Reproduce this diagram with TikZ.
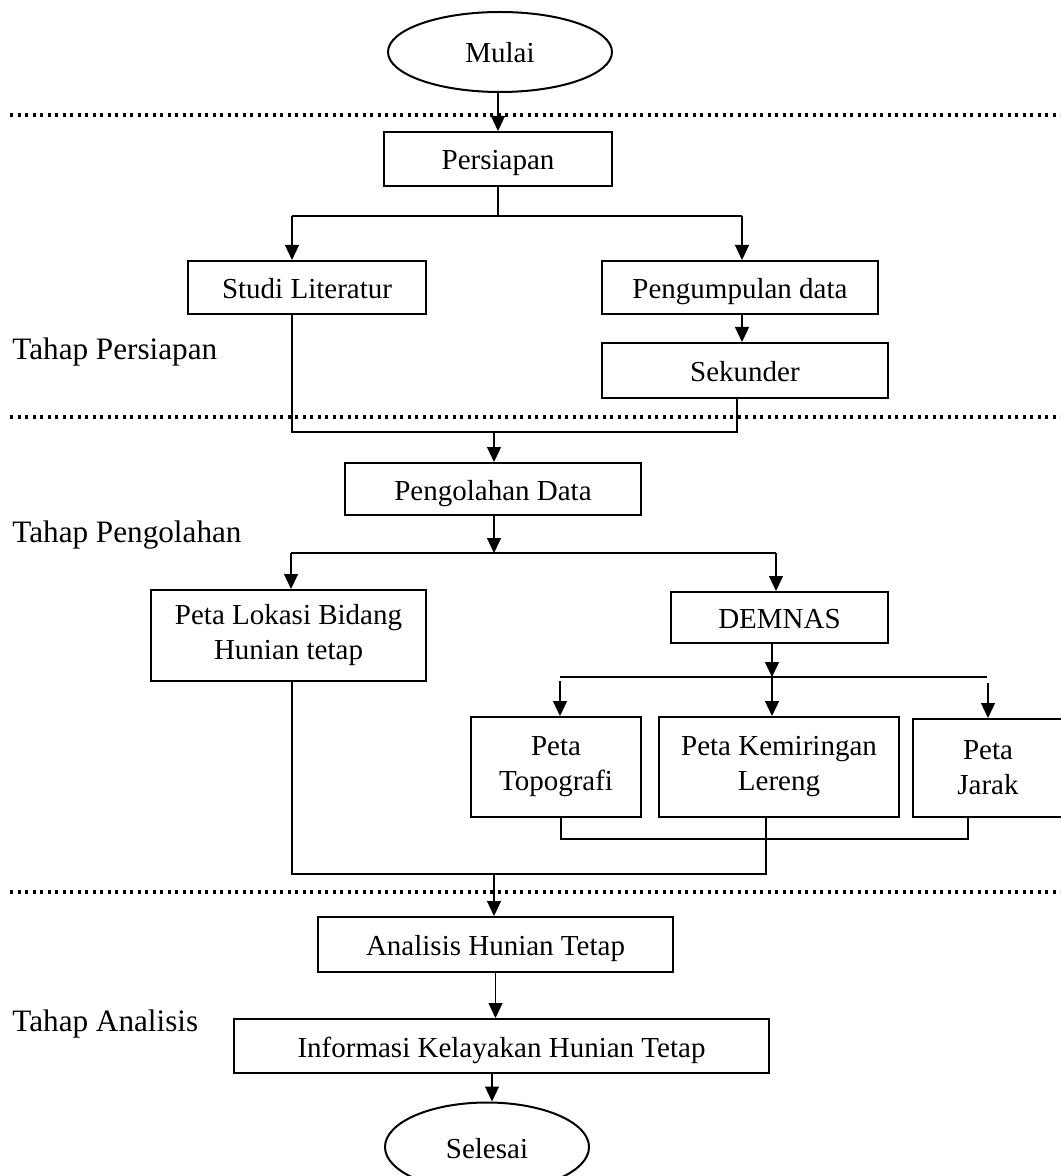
\documentclass[tikz,border=0pt]{standalone}
\usepackage{fontspec}
\setmainfont{Liberation Serif}
\usetikzlibrary{arrows.meta,shapes.geometric}
\begin{document}
\begin{tikzpicture}[x=0.5pt,y=-0.5pt,
  box/.style={draw,line width=1pt,inner sep=0pt,align=center,font=\fontsize{14.5}{17.5}\selectfont},
  sbox/.style={box,text height=11pt,text depth=0pt},
  oval/.style={draw,ellipse,line width=1pt,inner sep=0pt,text height=11pt,text depth=0pt,font=\fontsize{14.5}{17.5}\selectfont},
  conn/.style={line width=0.6pt},
  arr/.style={line width=0.6pt,-{Triangle[length=7.5pt,width=7pt]}},
  dotline/.style={line width=1.6pt,dash pattern=on 1.7pt off 2.05pt},
  phase/.style={anchor=base west,inner sep=0pt,font=\fontsize{15.6}{18}\selectfont}]
\useasboundingbox (0,0) rectangle (1060,1176);
\fill[white] (0,0) rectangle (1060,1176);

% phase separators
\draw[dotline] (10,115) -- (1060,115);
\draw[dotline] (10,417) -- (1060,417);
\draw[dotline] (10,892) -- (1060,892);

% phase labels
\node[phase] (lp1) at (12,359) {Tahap Persiapan};
\node[phase] (lp2) at (12,542) {Tahap Pengolahan};
\node[phase] (lp3) at (12,1031) {Tahap Analisis};

% nodes
\node[oval,minimum width=112pt,minimum height=40pt] (mulai) at (500,52) {Mulai};
\node[sbox,minimum width=114pt,minimum height=27pt] (persiapan) at (498,159) {Persiapan};
\node[sbox,minimum width=119pt,minimum height=26.5pt] (studi) at (307,287.5) {Studi Literatur};
\node[sbox,minimum width=138pt,minimum height=26.5pt] (kumpul) at (740,287.5) {Pengumpulan data};
\node[sbox,minimum width=143pt,minimum height=27.5pt] (sekunder) at (745,370.5) {Sekunder};
\node[sbox,minimum width=148pt,minimum height=26pt] (olah) at (493,489) {Pengolahan Data};
\node[box,minimum width=137.5pt,minimum height=45.5pt] (lokasi) at (288.5,635.5) {Peta Lokasi Bidang\\Hunian tetap};
\node[sbox,minimum width=108.5pt,minimum height=25.5pt] (demnas) at (779.5,617.5) {DEMNAS};
\node[box,minimum width=85pt,minimum height=50pt] (topo) at (556,767) {Peta\\Topografi};
\node[box,minimum width=120pt,minimum height=50pt] (kemir) at (779,767) {Peta Kemiringan\\Lereng};
\node[box,minimum width=75pt,minimum height=49pt] (jarak) at (988,768) {Peta\\Jarak};
\node[sbox,minimum width=177.5pt,minimum height=27.5pt] (analisis) at (495.5,944.5) {Analisis Hunian Tetap};
\node[sbox,minimum width=267.5pt,minimum height=27pt] (info) at (501.5,1046) {Informasi Kelayakan Hunian Tetap};
\node[oval,minimum width=102pt,minimum height=44.5pt] (selesai) at (487,1147) {Selesai};

% junction points
\coordinate (s1) at (498,216);
\coordinate (s1l) at (292,216);
\coordinate (s1r) at (742,216);
\coordinate (m1l) at (292,432);
\coordinate (m1r) at (737,432);
\coordinate (m1c) at (494,432);
\coordinate (s2) at (494,553);
\coordinate (s2l) at (291,553);
\coordinate (s2r) at (776,553);
\coordinate (s3) at (772,677);
\coordinate (s3l) at (560,677);
\coordinate (s3r) at (987,677);
\coordinate (s3la) at (560,681);
\coordinate (s3ra) at (988,683);
\coordinate (m2l) at (561,839);
\coordinate (m2r) at (968,839);
\coordinate (m3l) at (292,874);
\coordinate (m3r) at (766,874);
\coordinate (m3c) at (494,874);
\coordinate (a5) at (492,1073);

% connectors
\draw[arr] (persiapan.north |- mulai.south) -- (persiapan.north);
\draw[conn] (persiapan.south) -- (s1);
\draw[conn] (s1l) -- (s1r);
\draw[arr] (s1l) -- (s1l |- studi.north);
\draw[arr] (s1r) -- (s1r |- kumpul.north);
\draw[arr] (kumpul.south -| s1r) -- (sekunder.north -| s1r);
\draw[conn] (studi.south -| m1l) -- (m1l) -- (m1r) -- (sekunder.south -| m1r);
\draw[arr] (m1c) -- (m1c |- olah.north);
\draw[arr] (olah.south -| s2) -- (s2);
\draw[conn] (s2l) -- (s2r);
\draw[arr] (s2l) -- (s2l |- lokasi.north);
\draw[arr] (s2r) -- (s2r |- demnas.north);
\draw[arr] (demnas.south -| s3) -- (s3);
\draw[conn] (s3l) -- (s3r);
\draw[arr] (s3la) -- (s3la |- topo.north);
\draw[arr] (s3) -- (s3 |- kemir.north);
\draw[arr] (s3ra) -- (s3ra |- jarak.north);
\draw[conn] (topo.south -| m2l) -- (m2l) -- (m2r) -- (jarak.south -| m2r);
\draw[conn] (lokasi.south -| m3l) -- (m3l) -- (m3r) -- (kemir.south -| m3r);
\draw[arr] (m3c) -- (m3c |- analisis.north);
\draw[arr] (analisis.south) -- (analisis.south |- info.north);
\draw[arr] (a5) -- (a5 |- selesai.north);
\end{tikzpicture}
\end{document}
